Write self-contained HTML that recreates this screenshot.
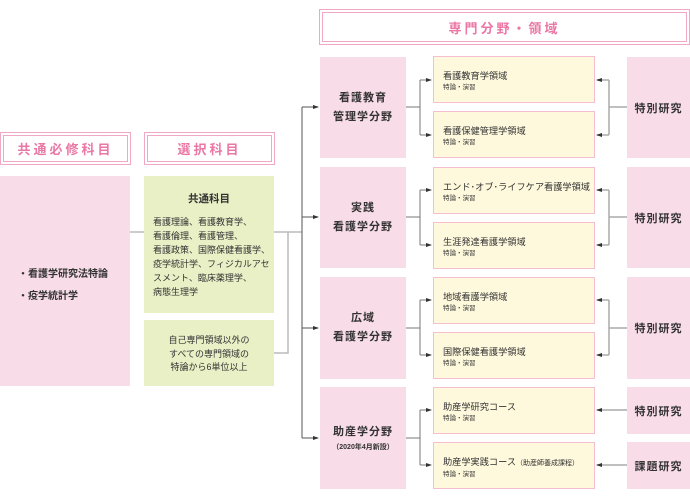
<!DOCTYPE html>
<html><head><meta charset="utf-8"><style>
*{margin:0;padding:0;box-sizing:border-box}
body{width:690px;height:498px;background:#fff;position:relative;overflow:hidden;font-family:"Liberation Sans","Noto Sans CJK JP",sans-serif;color:#333}
.a{position:absolute}
.hd{position:absolute;border:1px solid #f0a8c4;padding:2px;}
.hd div{border:1px solid #f0a8c4;width:100%;height:100%;display:flex;align-items:center;justify-content:center;color:#ea77a4;font-weight:bold;font-size:13px;letter-spacing:3px}
.pk{position:absolute;background:#f8dce7}
.cat{display:flex;flex-direction:column;align-items:center;justify-content:center;font-weight:bold;font-size:11px;line-height:19px;letter-spacing:1px;text-align:center}
.ye{position:absolute;background:#fef9dc;border:1px solid #f6bfd1;left:433px;width:162px;padding:13px 0 0 9px;font-size:9.2px;line-height:13px;white-space:nowrap}
.ye small{display:block;font-size:6.5px;line-height:9px}
.rt{display:flex;align-items:center;justify-content:center;font-weight:bold;font-size:11px;letter-spacing:1px}
.gr{position:absolute;background:#e9f0c6}
</style></head><body>
<div class="hd" style="left:0;top:132px;width:131px;height:33px"><div>共通必修科目</div></div>
<div class="hd" style="left:144px;top:132px;width:131px;height:33px"><div>選択科目</div></div>
<div class="hd" style="left:319px;top:9px;width:371px;height:36px"><div>専門分野・領域</div></div>

<div class="pk" style="left:0;top:176px;width:130px;height:210px;padding:88px 0 0 18px;font-weight:bold;font-size:10px;line-height:22px">・看護学研究法特論<br>・疫学統計学</div>
<div class="gr" style="left:144px;top:176px;width:130px;height:137px;padding:16px 0 0 9px;font-size:9px;line-height:14px">
<div style="text-align:center;font-weight:bold;font-size:10.5px;margin:0 0 9px -9px">共通科目</div>看護理論、看護教育学、<br>看護倫理、看護管理、<br>看護政策、国際保健看護学、<br>疫学統計学、フィジカルアセ<br>スメント、臨床薬理学、<br>病態生理学</div>
<div class="gr" style="left:144px;top:320px;width:130px;height:66px;padding:14px 0 0 0;text-align:center;font-size:9px;line-height:13.5px">自己専門領域以外の<br>すべての専門領域の<br>特論から6単位以上</div>

<div class="pk cat" style="left:320px;top:57px;width:86px;height:101px">看護教育<br>管理学分野</div>
<div class="pk cat" style="left:320px;top:167px;width:86px;height:101px">実践<br>看護学分野</div>
<div class="pk cat" style="left:320px;top:277px;width:86px;height:102px">広域<br>看護学分野</div>
<div class="pk cat" style="left:320px;top:387px;width:86px;height:102px">助産学分野<span style="font-size:7px;line-height:11px;letter-spacing:0">（2020年4月新設）</span></div>

<div class="ye" style="top:56px;height:47px">看護教育学領域<small>特論・演習</small></div>
<div class="ye" style="top:111px;height:47px">看護保健管理学領域<small>特論・演習</small></div>
<div class="ye" style="top:167px;height:47px">エンド･オブ･ライフケア看護学領域<small>特論・演習</small></div>
<div class="ye" style="top:222px;height:47px">生涯発達看護学領域<small>特論・演習</small></div>
<div class="ye" style="top:277px;height:47px">地域看護学領域<small>特論・演習</small></div>
<div class="ye" style="top:332px;height:47px">国際保健看護学領域<small>特論・演習</small></div>
<div class="ye" style="top:387px;height:47px">助産学研究コース<small>特論・演習</small></div>
<div class="ye" style="top:442px;height:47px">助産学実践コース<span style="font-size:7px">（助産師養成課程）</span><small>特論・演習</small></div>

<div class="pk rt" style="left:627px;top:57px;width:63px;height:101px">特別研究</div>
<div class="pk rt" style="left:627px;top:167px;width:63px;height:101px">特別研究</div>
<div class="pk rt" style="left:627px;top:277px;width:63px;height:102px">特別研究</div>
<div class="pk rt" style="left:627px;top:387px;width:63px;height:47px">特別研究</div>
<div class="pk rt" style="left:627px;top:442px;width:63px;height:47px">課題研究</div>

<svg class="a" style="left:0;top:0" width="690" height="498">
<defs><marker id="ar" markerWidth="6" markerHeight="6" refX="5" refY="3" orient="auto" markerUnits="userSpaceOnUse"><path d="M0,1 L6,3 L0,5z" fill="#333"/></marker></defs>
<g fill="none" stroke="#bbb" stroke-width="1.5">
<path d="M130 232H144M274 232H302M288 232V353H274"/>
</g>
<g fill="none" stroke="#555" stroke-width="1">
<path d="M302 107V438"/>
<path d="M302 107H318" marker-end="url(#ar)"/>
<path d="M302 217H318" marker-end="url(#ar)"/>
<path d="M302 328H318" marker-end="url(#ar)"/>
<path d="M302 438H318" marker-end="url(#ar)"/>
</g>
<g fill="none" stroke="#777" stroke-width="1">
<path d="M406 107H420M420 80V135M406 217H420M420 190V245M406 328H420M420 300V355M406 438H420M420 410V465"/>
<path d="M420 80H431" marker-end="url(#ar)"/><path d="M420 135H431" marker-end="url(#ar)"/>
<path d="M420 190H431" marker-end="url(#ar)"/><path d="M420 245H431" marker-end="url(#ar)"/>
<path d="M420 300H431" marker-end="url(#ar)"/><path d="M420 355H431" marker-end="url(#ar)"/>
<path d="M420 410H431" marker-end="url(#ar)"/><path d="M420 465H431" marker-end="url(#ar)"/>
</g>
<g fill="none" stroke="#aaa" stroke-width="1.5">
<path d="M627 107H609M609 80V135M627 217H609M609 190V245M627 328H609M609 300V355"/>
<path d="M609 80H597" marker-end="url(#ar)"/><path d="M609 135H597" marker-end="url(#ar)"/>
<path d="M609 190H597" marker-end="url(#ar)"/><path d="M609 245H597" marker-end="url(#ar)"/>
<path d="M609 300H597" marker-end="url(#ar)"/><path d="M609 355H597" marker-end="url(#ar)"/>
<path d="M627 410H597" marker-end="url(#ar)"/><path d="M627 465H597" marker-end="url(#ar)"/>
</g>
</svg>
</body></html>
